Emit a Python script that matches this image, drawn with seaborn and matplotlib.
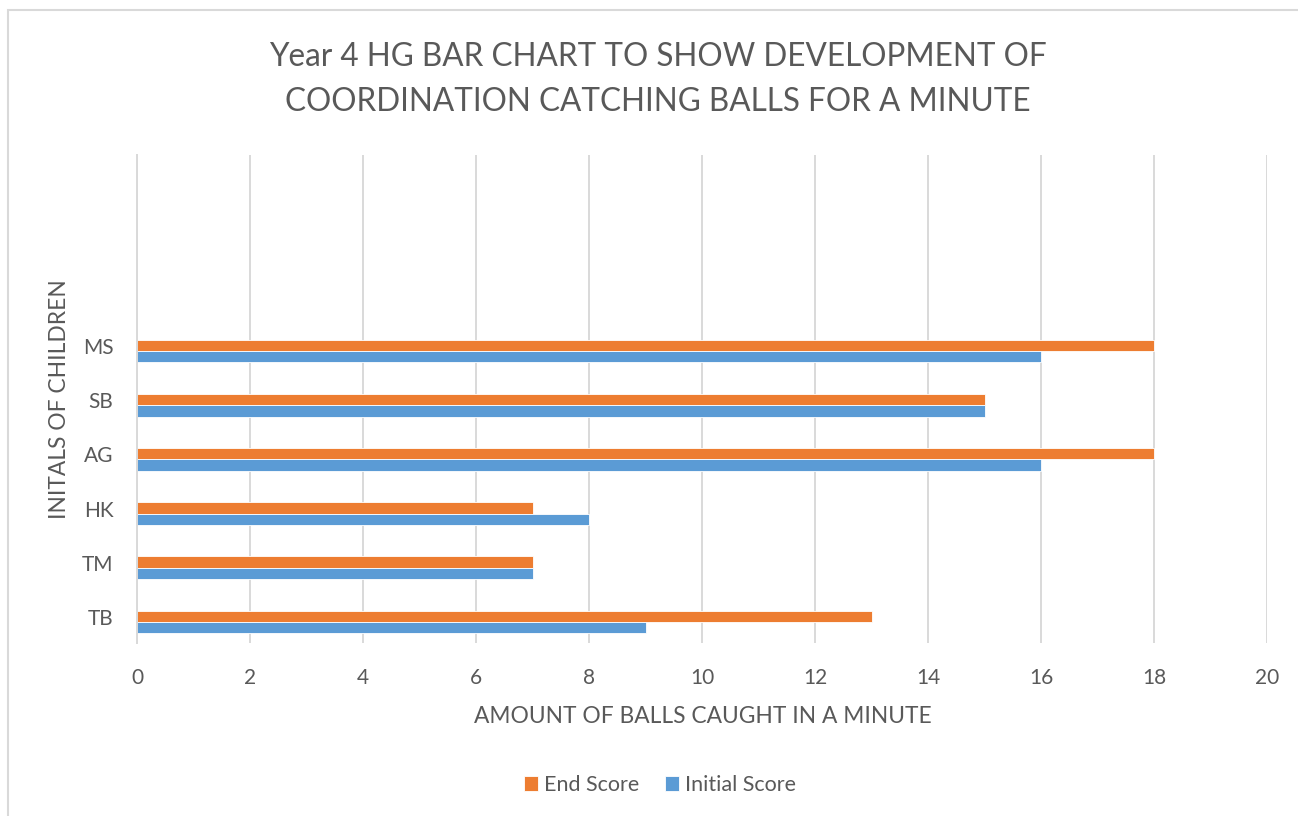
import matplotlib
matplotlib.use("Agg")
import matplotlib.pyplot as plt
import seaborn as sns
import pandas as pd
from matplotlib.patches import Rectangle

children = ["TB", "TM", "HK", "AG", "SB", "MS"]
end_score = [13, 7, 7, 18, 15, 18]
initial_score = [9, 7, 8, 16, 15, 16]
blank_slots = ["_b3", "_b2", "_b1"]
x_ticks = [0, 2, 4, 6, 8, 10, 12, 14, 16, 18, 20]

title_lines = ["Year 4 HG BAR CHART TO SHOW DEVELOPMENT OF",
               "COORDINATION CATCHING BALLS FOR A MINUTE"]
xlabel = "AMOUNT OF BALLS CAUGHT IN A MINUTE"
ylabel = "INITALS OF CHILDREN"

df = pd.DataFrame({
    "child": children * 2,
    "score": end_score + initial_score,
    "series": ["End Score"] * len(children) + ["Initial Score"] * len(children),
})

sns.set_theme(style="white")
plt.rcParams["font.family"] = ["Lato", "DejaVu Sans"]
TXT = "#595959"
GRID = "#d9d9d9"
W, H = 1298, 816

fig = plt.figure(figsize=(W / 100, H / 100), dpi=100)
ax = fig.add_axes([137 / W, 1 - 643 / H, 1130 / W, 488 / H])

order = blank_slots + children[::-1]
sns.barplot(data=df, x="score", y="child", hue="series", order=order,
            hue_order=["End Score", "Initial Score"],
            palette={"End Score": "#ed7d31", "Initial Score": "#5b9bd5"},
            orient="h", width=0.42, ax=ax, saturation=1, legend=True,
            linewidth=0.6, edgecolor="white")

ax.set_xlim(0, 20)
ax.set_ylim(8.39, -0.62)
ax.set_xticks(x_ticks)
ax.set_xticklabels([str(t) for t in x_ticks], fontsize=15, color=TXT)
# Excel draws category labels a few pixels above the bar-group centre
label_offset = 5 / 54.2
ax.set_yticks([i - label_offset for i in range(len(order))])
ax.set_yticklabels(["" if c.startswith("_") else c for c in order], fontsize=15, color=TXT)
ax.grid(axis="x", color=GRID, linewidth=1.4)
ax.grid(axis="y", visible=False)
ax.set_axisbelow(True)
for s in ["top", "right", "bottom"]:
    ax.spines[s].set_visible(False)
ax.spines["left"].set_color(GRID)
ax.spines["left"].set_linewidth(1.4)
ax.tick_params(axis="x", length=5, width=1.2, color=GRID, pad=13)
ax.tick_params(axis="y", length=0, pad=17)
ax.set_xlabel("")
ax.set_ylabel("")

fig.text(703 / W, 1 - 723 / H, xlabel, ha="center", va="baseline",
         fontsize=16.4, color=TXT)
fig.text(66 / W, 1 - 399 / H, ylabel, ha="center", va="baseline",
         rotation=90, rotation_mode="anchor", fontsize=16.4, color=TXT)

leg = ax.legend(loc="center", bbox_to_anchor=(660 / W, 1 - 785 / H),
                bbox_transform=fig.transFigure, ncol=2, frameon=False,
                fontsize=15.5, handlelength=0.65, handleheight=0.65,
                handletextpad=0.3, columnspacing=1.2)
for t in leg.get_texts():
    t.set_color(TXT)

fig.text(658 / W, 1 - 66 / H, title_lines[0], ha="center", va="baseline",
         fontsize=22.7, color=TXT)
fig.text(658 / W, 1 - 111 / H, title_lines[1], ha="center", va="baseline",
         fontsize=22.7, color=TXT)

fig.patches.append(Rectangle((8 / W, -0.1), 1.2, (1 - 10 / H) + 0.1,
                             transform=fig.transFigure, fill=False,
                             edgecolor=GRID, linewidth=1.5))

fig.savefig("out.png", dpi=100, facecolor="white")
